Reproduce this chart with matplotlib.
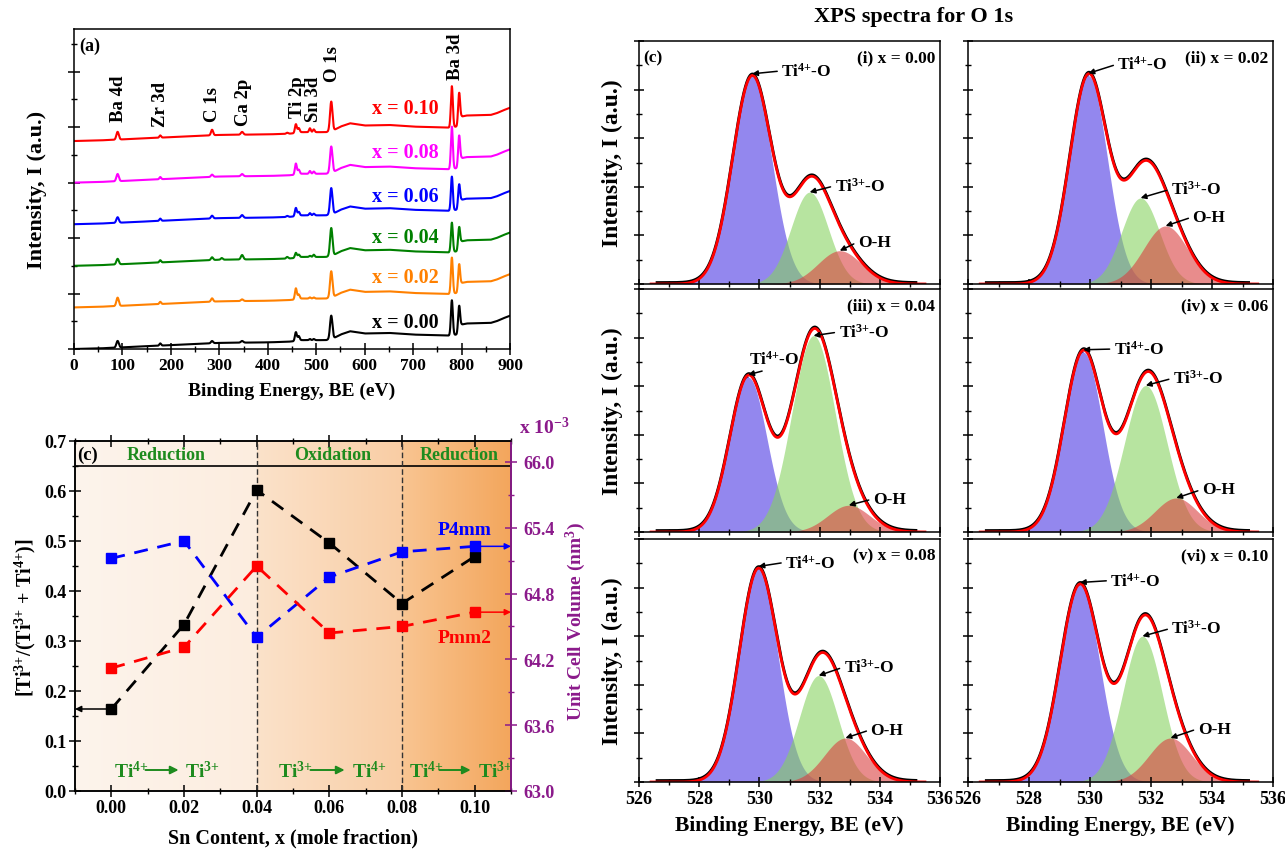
import numpy as np
import matplotlib
matplotlib.use('Agg')
import matplotlib.pyplot as plt
from matplotlib.colors import LinearSegmentedColormap
from matplotlib.ticker import MultipleLocator, FormatStrFormatter, NullFormatter

plt.rcParams['font.family'] = ['Liberation Serif', 'DejaVu Serif']
plt.rcParams['font.weight'] = 'bold'
plt.rcParams['axes.labelweight'] = 'bold'
plt.rcParams['mathtext.default'] = 'regular'
plt.rcParams['axes.linewidth'] = 1.1

# ---------------- data: survey spectra (panel a) ----------------
survey_labels = ['x = 0.00', 'x = 0.02', 'x = 0.04', 'x = 0.06', 'x = 0.08', 'x = 0.10']
survey_colors = ['#000000', '#FF8000', '#008000', '#0000FF', '#FF00FF', '#FF0000']
survey_offsets = [0.0, 0.75, 1.5, 2.25, 3.0, 3.75]
base_be = [0, 50, 100, 150, 200, 250, 300, 350, 400, 440, 455, 470, 520, 535, 550, 570,
           600, 650, 700, 740, 772, 790, 800, 810, 860, 872, 885, 900]
base_int = [0.0, 0.01, 0.03, 0.05, 0.07, 0.09, 0.11, 0.115, 0.12, 0.13, 0.14, 0.16, 0.16, 0.19,
            0.26, 0.32, 0.28, 0.29, 0.26, 0.25, 0.24, 0.26, 0.44, 0.46, 0.47, 0.5, 0.55, 0.6]
peak_be = [90, 178, 285, 305, 347, 440, 458, 464, 487, 495, 531, 780, 795]
peak_sigma = [2.5, 1.8, 2.2, 2.0, 2.5, 2.0, 2.0, 2.0, 1.8, 1.8, 2.5, 2.0, 2.0]
peak_h_000 = [0.12, 0.04, 0.04, 0.00, 0.03, 0.00, 0.16, 0.08, 0.02, 0.02, 0.42, 0.63, 0.43]
peak_h_002 = [0.15, 0.04, 0.06, 0.00, 0.03, 0.00, 0.20, 0.08, 0.02, 0.02, 0.47, 0.65, 0.43]
peak_h_004 = [0.10, 0.04, 0.05, 0.03, 0.08, 0.03, 0.09, 0.05, 0.02, 0.04, 0.50, 0.53, 0.35]
peak_h_006 = [0.10, 0.04, 0.05, 0.00, 0.05, 0.02, 0.15, 0.07, 0.04, 0.03, 0.47, 0.61, 0.37]
peak_h_008 = [0.13, 0.04, 0.04, 0.00, 0.04, 0.00, 0.20, 0.08, 0.05, 0.04, 0.47, 0.76, 0.50]
peak_h_010 = [0.14, 0.04, 0.10, 0.00, 0.05, 0.02, 0.16, 0.08, 0.07, 0.05, 0.53, 0.74, 0.52]
survey_heights = [peak_h_000, peak_h_002, peak_h_004, peak_h_006, peak_h_008, peak_h_010]
survey_label_y = [0.49, 1.30, 2.02, 2.76, 3.55, 4.34]
core_names = ['Ba 4d', 'Zr 3d', 'C 1s', 'Ca 2p', 'Ti 2p', 'Sn 3d', 'O 1s', 'Ba 3d']
core_be = [91, 178, 285, 350, 461, 494, 534, 788]
core_y = [4.11, 4.02, 4.11, 4.04, 4.18, 4.11, 4.83, 4.86]

# ---------------- data: panel (c) left ----------------
sn_x = [0.00, 0.02, 0.04, 0.06, 0.08, 0.10]
ti_ratio = [0.164, 0.333, 0.602, 0.496, 0.375, 0.469]
vol_p4mm = [65.12, 65.28, 64.40, 64.95, 65.18, 65.23]
vol_pmm2 = [64.12, 64.31, 65.05, 64.44, 64.50, 64.63]

# ---------------- data: XPS O 1s fits ----------------
xps_labels = ['(i) x = 0.00', '(ii) x = 0.02', '(iii) x = 0.04',
              '(iv) x = 0.06', '(v) x = 0.08', '(vi) x = 0.10']
ti4_center = [529.76, 529.95, 529.63, 529.78, 529.97, 529.67]
ti4_height = [0.855, 0.857, 0.637, 0.740, 0.877, 0.811]
ti4_sigma = [0.65, 0.62, 0.62, 0.63, 0.64, 0.65]
ti3_center = [531.67, 531.66, 531.80, 531.83, 531.97, 531.72]
ti3_height = [0.378, 0.354, 0.808, 0.603, 0.438, 0.600]
ti3_sigma = [0.62, 0.62, 0.72, 0.70, 0.64, 0.65]
oh_center = [532.67, 532.48, 532.97, 532.83, 532.86, 532.64]
oh_height = [0.137, 0.239, 0.110, 0.140, 0.181, 0.181]
oh_sigma = [0.72, 0.72, 0.70, 0.70, 0.70, 0.70]
# annotation text positions (BE, intensity)
ti4_text = [(530.73, 0.877), (530.90, 0.905), (529.64, 0.712), (530.78, 0.753), (530.86, 0.904), (530.67, 0.829)]
ti3_text = [(532.50, 0.404), (532.64, 0.390), (532.63, 0.823), (532.72, 0.633), (532.80, 0.473), (532.67, 0.633)]
oh_text = [(533.27, 0.173), (533.36, 0.276), (533.77, 0.136), (533.67, 0.175), (533.69, 0.215), (533.53, 0.219)]

W, H = 1285, 853
fig = plt.figure(figsize=(W / 100, H / 100), dpi=100)


def box(l, r, t, b):
    return [l / W, 1 - b / H, (r - l) / W, (b - t) / H]


def gauss(x, c, h, s):
    return h * np.exp(-(x - c) ** 2 / (2 * s ** 2))


# ================= Panel (a) =================
axa = fig.add_axes(box(74, 510, 30, 350))
be = np.linspace(0, 900, 3601)
for lab, col, off, hts, ly in zip(survey_labels, survey_colors, survey_offsets, survey_heights, survey_label_y):
    y = np.interp(be, base_be, base_int) + off
    for c, s, h in zip(peak_be, peak_sigma, hts):
        y = y + gauss(be, c, h, s)
    axa.plot(be, y, color=col, lw=1.5)
    axa.text(752, ly, lab, color=col, fontsize=14.5, ha='right', va='center')
for nm, xb, yb in zip(core_names, core_be, core_y):
    axa.text(xb, yb, nm, rotation=90, ha='center', va='bottom', fontsize=13.5)
axa.set_xlim(0, 900)
axa.set_ylim(0, 5.77)
axa.xaxis.set_major_locator(MultipleLocator(100))
axa.xaxis.set_minor_locator(MultipleLocator(50))
axa.yaxis.set_major_locator(MultipleLocator(1))
axa.yaxis.set_minor_locator(MultipleLocator(0.5))
axa.yaxis.set_major_formatter(NullFormatter())
axa.tick_params(which='major', direction='inout', length=8, width=1.1, labelsize=12.5, pad=2)
axa.tick_params(which='minor', direction='inout', length=5, width=1.0)
axa.set_xlabel('Binding Energy, BE (eV)', fontsize=14, labelpad=6)
fig.text(37 / W, 1 - 190 / H, 'Intensity, I (a.u.)', rotation=90, ha='center', va='center', fontsize=16)
axa.text(0.012, 0.975, '(a)', transform=axa.transAxes, ha='left', va='top', fontsize=13)

# ================= Panel (c) left =================
axc = fig.add_axes(box(75, 511, 442, 792))
regions = [(-0.01, 0.04, '#FDF4EC', '#FCEDDF'),
           (0.04, 0.08, '#FBE2CA', '#F9CDA4'),
           (0.08, 0.11, '#F9C592', '#F3A65C')]
for x0, x1, c0, c1 in regions:
    cm = LinearSegmentedColormap.from_list('g', [c0, c1])
    axc.imshow(np.linspace(0, 1, 256)[None, :], extent=[x0, x1, 0, 0.7], cmap=cm,
               aspect='auto', zorder=0, interpolation='bilinear')
axc.axhline(0.65, color='k', lw=1.2, zorder=2)
for xv in [0.04, 0.08]:
    axc.axvline(xv, color='#333333', lw=1.0, ls=(0, (4, 2)), zorder=2)
axc.plot(sn_x, ti_ratio, color='k', ls=(0, (5, 3.5)), lw=2, marker='s', ms=7.5, zorder=4)
axc.annotate('', xy=(-0.01, ti_ratio[0]), xytext=(sn_x[0], ti_ratio[0]),
             arrowprops=dict(arrowstyle='-|>', color='k', lw=1.1, mutation_scale=9, shrinkA=0, shrinkB=0), zorder=5)
axc.set_xlim(-0.01, 0.11)
axc.set_ylim(0, 0.7)
axc.xaxis.set_major_locator(MultipleLocator(0.02))
axc.xaxis.set_minor_locator(MultipleLocator(0.01))
axc.yaxis.set_major_locator(MultipleLocator(0.1))
axc.yaxis.set_minor_locator(MultipleLocator(0.05))
axc.xaxis.set_major_formatter(FormatStrFormatter('%.2f'))
axc.yaxis.set_major_formatter(FormatStrFormatter('%.1f'))
axc.tick_params(which='major', direction='inout', length=8, width=1.1, labelsize=13, pad=2)
axc.tick_params(which='minor', direction='inout', length=5, width=1.0)
axc.tick_params(axis='x', which='both', top=True)
axc.set_xlabel('Sn Content, x (mole fraction)', fontsize=14.5, labelpad=8)
fig.text(25 / W, 1 - 618 / H, r'[Ti$^{3{+}}$/(Ti$^{3{+}}$ + Ti$^{4{+}}$)]', rotation=90,
         ha='center', va='center', fontsize=14.5)
green = '#1E8B1E'
axc.text(-0.0066, 0.673, '(c)', ha='center', va='center', fontsize=13.5, zorder=6)
axc.text(0.015, 0.673, 'Reduction', color=green, ha='center', va='center', fontsize=13, zorder=6)
axc.text(0.0608, 0.673, 'Oxidation', color=green, ha='center', va='center', fontsize=13, zorder=6)
axc.text(0.0958, 0.673, 'Reduction', color=green, ha='center', va='center', fontsize=13, zorder=6)
for a, b, c, d, e, f in [(0.0008, 0.0094, 0.0185, 0.0203, '4{+}', '3{+}'),
                         (0.0460, 0.0548, 0.0642, 0.0662, '3{+}', '4{+}'),
                         (0.0818, 0.0903, 0.0989, 0.1008, '4{+}', '3{+}')]:
    axc.text(a, 0.04, r'Ti$^{%s}$' % e, color=green, ha='left', va='center', fontsize=14, zorder=6)
    axc.annotate('', xy=(c, 0.042), xytext=(b, 0.042),
                 arrowprops=dict(arrowstyle='-|>', color=green, lw=1.4, mutation_scale=12,
                                 shrinkA=0, shrinkB=0), zorder=6)
    axc.text(d, 0.04, r'Ti$^{%s}$' % f, color=green, ha='left', va='center', fontsize=14, zorder=6)

purple = '#8B1A8B'
ax2 = axc.twinx()
ax2.plot(sn_x, vol_p4mm, color='#0000FF', ls=(0, (5, 3.5)), lw=2, marker='s', ms=7.5)
ax2.plot(sn_x, vol_pmm2, color='#FF0000', ls=(0, (5, 3.5)), lw=2, marker='s', ms=7.5)
for vals, col in [(vol_p4mm, '#0000FF'), (vol_pmm2, '#FF0000')]:
    ax2.annotate('', xy=(0.11, vals[-1]), xytext=(sn_x[-1], vals[-1]),
                 arrowprops=dict(arrowstyle='-|>', color=col, lw=1.1, mutation_scale=9, shrinkA=0, shrinkB=0))
ax2.text(0.0973, 65.38, 'P4mm', color='#0000FF', ha='center', va='center', fontsize=14)
ax2.text(0.0973, 64.40, 'Pmm2', color='#FF0000', ha='center', va='center', fontsize=14)
ax2.set_ylim(63.0, 66.19)
ax2.yaxis.set_major_locator(MultipleLocator(0.6))
ax2.yaxis.set_minor_locator(MultipleLocator(0.3))
ax2.yaxis.set_major_formatter(FormatStrFormatter('%.1f'))
ax2.tick_params(axis='y', which='major', direction='inout', length=8, width=1.1, labelsize=13,
                colors=purple, pad=5)
ax2.tick_params(axis='y', which='minor', direction='inout', length=5, width=1.0, colors=purple)
ax2.spines['right'].set_color(purple)
ax2.spines['right'].set_linewidth(1.3)
fig.text(576 / W, 1 - 622 / H, r'Unit Cell Volume (nm$^3$)', rotation=90, ha='center', va='center',
         fontsize=14, color=purple)
fig.text(519 / W, 1 - 428 / H, r'x 10$^{-3}$', ha='left', va='center', fontsize=14, color=purple)

# ================= XPS panels =================
fig.text(914 / W, 1 - 17 / H, 'XPS spectra for O 1s', ha='center', va='center', fontsize=16)
cols = [(639, 940), (968, 1273)]
rows = [(42, 285), (290, 533), (540, 783)]
xe = np.linspace(526.4, 535.5, 800)
xd = np.linspace(526.6, 535.2, 800)
for i in range(6):
    r, cidx = divmod(i, 2)
    l, rr = cols[cidx]
    t, b = rows[r]
    ax = fig.add_axes(box(l, rr, t, b))
    g1 = gauss(xe, ti4_center[i], ti4_height[i], ti4_sigma[i])
    g2 = gauss(xe, ti3_center[i], ti3_height[i], ti3_sigma[i])
    g3 = gauss(xe, oh_center[i], oh_height[i], oh_sigma[i])
    ax.fill_between(xe, 0, g1, color='#4B37E3', alpha=0.6, lw=0)
    ax.plot(xe[xe < ti4_center[i]], g1[xe < ti4_center[i]], color='#2A1FA0', lw=0.9)
    ax.fill_between(xe, 0, g2, color='#87D261', alpha=0.6, lw=0)
    ax.fill_between(xe, 0, g3, color='#D93F3F', alpha=0.6, lw=0)
    env_d = (gauss(xd, ti4_center[i], ti4_height[i], ti4_sigma[i]) +
             gauss(xd, ti3_center[i], ti3_height[i], ti3_sigma[i]) +
             gauss(xd, oh_center[i], oh_height[i], oh_sigma[i]))
    ax.plot(xd, env_d + 0.006, color='k', lw=2.0)
    ax.plot(xe, g1 + g2 + g3, color='#FF0000', lw=2.0)
    ax.axhline(0.001, color='#C87070', lw=1.0, xmin=0.03, xmax=0.95)
    tips = [(ti4_center[i], ti4_height[i] + 0.01), (ti3_center[i], ti3_height[i]), (oh_center[i], oh_height[i])]
    texts = [ti4_text[i], ti3_text[i], oh_text[i]]
    names = [r'Ti$^{4{+}}$-O', r'Ti$^{3{+}}$-O', 'O-H']
    for nm, (tx, ty), (px, py), k in zip(names, texts, tips, range(3)):
        rel = (0.5, 0.0) if (i == 2 and k == 0) else (0.0, 0.5)
        ax.annotate(nm, xy=(px, py), xytext=(tx, ty), ha='left', va='center', fontsize=12.5,
                    arrowprops=dict(arrowstyle='-|>', color='k', lw=1.1, mutation_scale=8,
                                    relpos=rel, shrinkA=1, shrinkB=0))
    ax.text(0.985, 0.965, xps_labels[i], transform=ax.transAxes, ha='right', va='top', fontsize=12.5)
    if i == 0:
        ax.text(0.015, 0.965, '(c)', transform=ax.transAxes, ha='left', va='top', fontsize=12.5)
    ax.set_xlim(526, 536)
    ax.set_ylim(0, 1)
    ax.xaxis.set_major_locator(MultipleLocator(2))
    ax.xaxis.set_minor_locator(MultipleLocator(1))
    ax.yaxis.set_major_locator(MultipleLocator(0.2))
    ax.yaxis.set_minor_locator(MultipleLocator(0.1))
    ax.yaxis.set_major_formatter(NullFormatter())
    ax.tick_params(which='major', direction='inout', length=7, width=1.1, labelsize=13, pad=2)
    ax.tick_params(which='minor', direction='inout', length=4, width=1.0)
    if r < 2:
        ax.xaxis.set_major_formatter(NullFormatter())
    else:
        ax.set_xlabel('Binding Energy, BE (eV)', fontsize=15.5, labelpad=6)
    if cidx == 0:
        fig.text(612 / W, 1 - (t + b) / 2 / H, 'Intensity, I (a.u.)', rotation=90,
                 ha='center', va='center', fontsize=17)

fig.savefig('out.png', dpi=100)
